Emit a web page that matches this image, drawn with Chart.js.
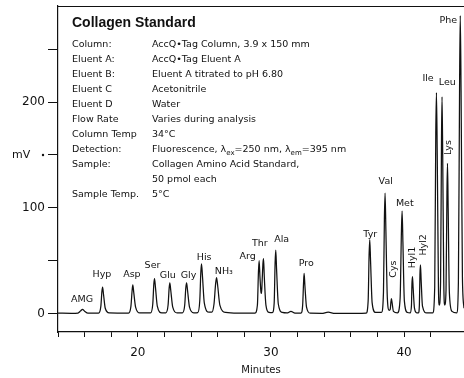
<!DOCTYPE html>
<html><head><meta charset="utf-8">
<script src="https://cdn.jsdelivr.net/npm/chart.js@4"></script>
<style>html,body{margin:0;padding:0;background:#fff}#wrap{width:464px;height:378px}</style>
</head><body><div id="wrap"><canvas id="c" width="464" height="378"></canvas></div>
<script>
// ---- chromatogram trace (minutes, mV) ----
const traceTime = [
  14.0, 15.0, 15.5, 15.7, 15.84, 16.0, 16.25,
  17.05, 17.22, 17.30, 17.35, 17.42, 17.55, 17.85,
  19.30, 19.48, 19.57, 19.62, 19.69, 19.83, 20.15,
  20.95, 21.12, 21.20, 21.25, 21.32, 21.46, 21.80,
  22.10, 22.27, 22.35, 22.40, 22.47, 22.62, 22.95,
  23.35, 23.52, 23.60, 23.66, 23.73, 23.88, 24.20,
  24.50, 24.65, 24.73, 24.78, 24.85, 24.99, 25.35,
  25.55, 25.72, 25.84, 25.91, 25.99, 26.16, 26.60,
  27.50, 28.80,
  28.98, 29.06, 29.11, 29.17, 29.25, 29.29, 29.34, 29.40, 29.44, 29.50, 29.62, 29.85,
  30.10, 30.24, 30.31, 30.36, 30.42, 30.55, 30.85,
  31.20, 31.50, 31.80,
  32.25, 32.38, 32.45, 32.49, 32.55, 32.67, 32.95,
  33.80, 34.30, 34.80, 36.50,
  37.15, 37.30, 37.37, 37.42, 37.48, 37.60, 37.85,
  38.30, 38.45, 38.52, 38.57, 38.63, 38.74, 38.88,
  38.96, 39.01, 39.05, 39.10, 39.20,
  39.50, 39.70, 39.80, 39.85, 39.91, 40.02, 40.25,
  40.45, 40.55, 40.59, 40.63, 40.68, 40.78, 40.95,
  41.08, 41.15, 41.19, 41.23, 41.28, 41.38, 41.70,
  42.15, 42.30, 42.38, 42.43, 42.49, 42.58, 42.64,
  42.74, 42.81, 42.85, 42.90, 42.98, 43.05,
  43.15, 43.22, 43.26, 43.31, 43.40, 43.60,
  43.95, 44.08, 44.17, 44.22, 44.28, 44.38, 44.50
];
const traceSignal = [
  0.3, 0.2, 0.4, 2.5, 4, 2.2, 0.4,
  0.4, 7, 21, 25, 18, 5, 0.6,
  0.4, 7, 22, 27, 20, 6, 0.5,
  0.5, 9, 28, 33, 25, 7, 0.6,
  0.6, 8, 24, 29, 22, 6, 0.6,
  0.6, 8, 24, 29, 22, 6, 0.7,
  0.9, 12, 39, 47, 36, 10, 1.2,
  1.2, 9, 28, 34, 27, 8, 1.0,
  0.3, 0.4,
  8, 40, 50, 35, 20, 19, 32, 48, 52, 34, 8, 1,
  0.8, 10, 48, 60, 42, 9, 1,
  0.5, 2, 0.4,
  0.3, 8, 30, 38, 26, 6, 0.3,
  0.2, 1.2, 0.2, 0.1,
  0.4, 12, 55, 70, 50, 10, 1,
  1, 20, 90, 114, 80, 15, 3,
  4, 11, 14, 10, 2,
  0.6, 14, 78, 97, 68, 12, 1,
  0.6, 7, 28, 35, 24, 5, 0.6,
  0.6, 9, 37, 46, 32, 7, 0.6,
  0.6, 25, 170, 209, 150, 25, 8,
  30, 165, 205, 150, 30, 8,
  22, 115, 142, 100, 20, 2,
  0.6, 30, 220, 282, 210, 35, 5
];
// ---- peak names and where they are written ----
const peakLabels      = ['AMG','Hyp','Asp','Ser','Glu','Gly','His','NH\u2083','Arg','Thr','Ala','Pro','Tyr','Val','Cys','Met','Hyl1','Hyl2','Ile','Leu','Lys','Phe'];
const peakLabelTime   = [15.8, 17.3, 19.55, 21.1, 22.25, 23.8, 24.98, 26.46, 28.24, 29.16, 30.8, 32.65, 37.46, 38.62, 39.19, 40.05, 40.65, 41.44, 41.8, 43.25, 43.32, 43.32];
const peakLabelSignal = [13.6, 37, 37, 45, 36, 36, 53, 40, 54, 66, 70, 47, 75, 124.5, 42, 104, 53, 65, 222, 219, 157, 277];
const peakLabelRotated= [0,0,0,0,0,0,0,0,0,0,0,0,0,0,1,0,1,1,0,0,1,0];
// ---- axes ----
const xLabelledTicks = [20, 30, 40];
const yLabelledTicks = [0, 100, 200];
const yUnitLabel = 'mV';
const yUnitAt = 150;
const xTitle = 'Minutes';
// ---- method box ----
const infoTitle = 'Collagen Standard';
const infoLabels = ['Column:', 'Eluent A:', 'Eluent B:', 'Eluent C', 'Eluent D', 'Flow Rate', 'Column Temp', 'Detection:', 'Sample:', '', 'Sample Temp.'];
const infoValues = ['AccQ\u2022Tag Column, 3.9 x 150 mm', 'AccQ\u2022Tag Eluent A', 'Eluent A titrated to pH 6.80', 'Acetonitrile', 'Water', 'Varies during analysis', '34\u00B0C', 'Fluorescence, \u03BB_ex=250 nm, \u03BB_em=395 nm', 'Collagen Amino Acid Standard,', '50 pmol each', '5\u00B0C'];

const INK = '#111';
const FONT = '"DejaVu Sans", sans-serif';

const overlay = {
  id: 'overlay',
  afterDraw(chart) {
    const ctx = chart.ctx, a = chart.chartArea;
    const xs = chart.scales.x, ys = chart.scales.y;
    ctx.save();
    // top frame line
    ctx.strokeStyle = INK; ctx.lineWidth = 1.2;
    ctx.beginPath(); ctx.moveTo(a.left, a.top + 0.5); ctx.lineTo(a.right, a.top + 0.5); ctx.stroke();
    ctx.fillStyle = INK;
    // unit label
    ctx.font = '11px ' + FONT; ctx.textAlign = 'left'; ctx.textBaseline = 'middle';
    ctx.fillText(yUnitLabel, 12, ys.getPixelForValue(yUnitAt));
    ctx.beginPath(); ctx.arc(43, ys.getPixelForValue(yUnitAt), 1.2, 0, Math.PI * 2); ctx.fill();
    // method box
    ctx.font = 'bold 14px "Liberation Sans Narrow", "Liberation Sans", sans-serif';
    ctx.textBaseline = 'middle';
    ctx.fillText(infoTitle, 72, 23);
    const rowY0 = 45, rowDY = 15;
    ctx.font = '9.5px ' + FONT;
    infoLabels.forEach((lab, i) => { ctx.fillText(lab, 72, rowY0 + i * rowDY); });
    infoValues.forEach((val, i) => {
      let x = 152; const y = rowY0 + i * rowDY;
      const parts = val.split(/_([a-z]+)/);
      parts.forEach((p, k) => {
        if (k % 2 === 1) {
          ctx.font = '7px ' + FONT; ctx.fillText(p, x, y + 3); x += ctx.measureText(p).width;
        } else {
          ctx.font = '9.5px ' + FONT; ctx.fillText(p, x, y); x += ctx.measureText(p).width;
        }
      });
    });
    // peak labels
    ctx.font = '9.5px ' + FONT; ctx.textAlign = 'center'; ctx.textBaseline = 'middle';
    peakLabels.forEach((lab, i) => {
      const px = xs.getPixelForValue(peakLabelTime[i]);
      const py = ys.getPixelForValue(peakLabelSignal[i]);
      if (peakLabelRotated[i]) {
        ctx.save(); ctx.translate(px, py); ctx.rotate(-Math.PI / 2); ctx.fillText(lab, 0, 0); ctx.restore();
      } else {
        ctx.fillText(lab, px, py);
      }
    });
    ctx.restore();
  }
};

new Chart(document.getElementById('c'), {
  type: 'line',
  data: {
    datasets: [{
      data: traceTime.map((t, i) => ({ x: t, y: traceSignal[i] })),
      borderColor: INK, borderWidth: 1.25, pointRadius: 0,
      cubicInterpolationMode: 'monotone', fill: false
    }]
  },
  options: {
    responsive: false, animation: false,
    layout: { autoPadding: false, padding: { top: 6, right: 0, left: 0, bottom: 0 } },
    plugins: { legend: { display: false }, tooltip: { enabled: false } },
    scales: {
      x: {
        type: 'linear', min: 14, max: 44.5,
        afterFit(s) { s.height = 46; s.paddingRight = 0; s.paddingLeft = 0; },
        ticks: {
          stepSize: 2, autoSkip: false, maxRotation: 0, padding: 9, color: INK,
          font: { size: 12, family: FONT },
          callback: v => xLabelledTicks.includes(v) ? String(v) : ''
        },
        grid: { drawOnChartArea: false, drawTicks: true, tickLength: 5, color: INK },
        border: { display: true, color: INK, width: 1.2 },
        title: { display: true, text: xTitle, color: INK, font: { size: 10, family: FONT }, padding: { top: 0, bottom: 2 } }
      },
      y: {
        type: 'linear', min: -17.5, max: 291,
        afterFit(s) { s.width = 58; s.paddingTop = 0; s.paddingBottom = 0; },
        afterBuildTicks(s) { s.ticks = [0, 50, 100, 150, 200, 250].map(v => ({ value: v })); },
        ticks: {
          autoSkip: false, padding: 3, color: INK,
          font: { size: 12, family: FONT },
          callback: v => yLabelledTicks.includes(v) ? String(v) : ''
        },
        grid: { drawOnChartArea: false, drawTicks: true, tickLength: 10, color: INK },
        border: { display: true, color: INK, width: 1.2 }
      }
    }
  },
  plugins: [overlay]
});
</script></body></html>
